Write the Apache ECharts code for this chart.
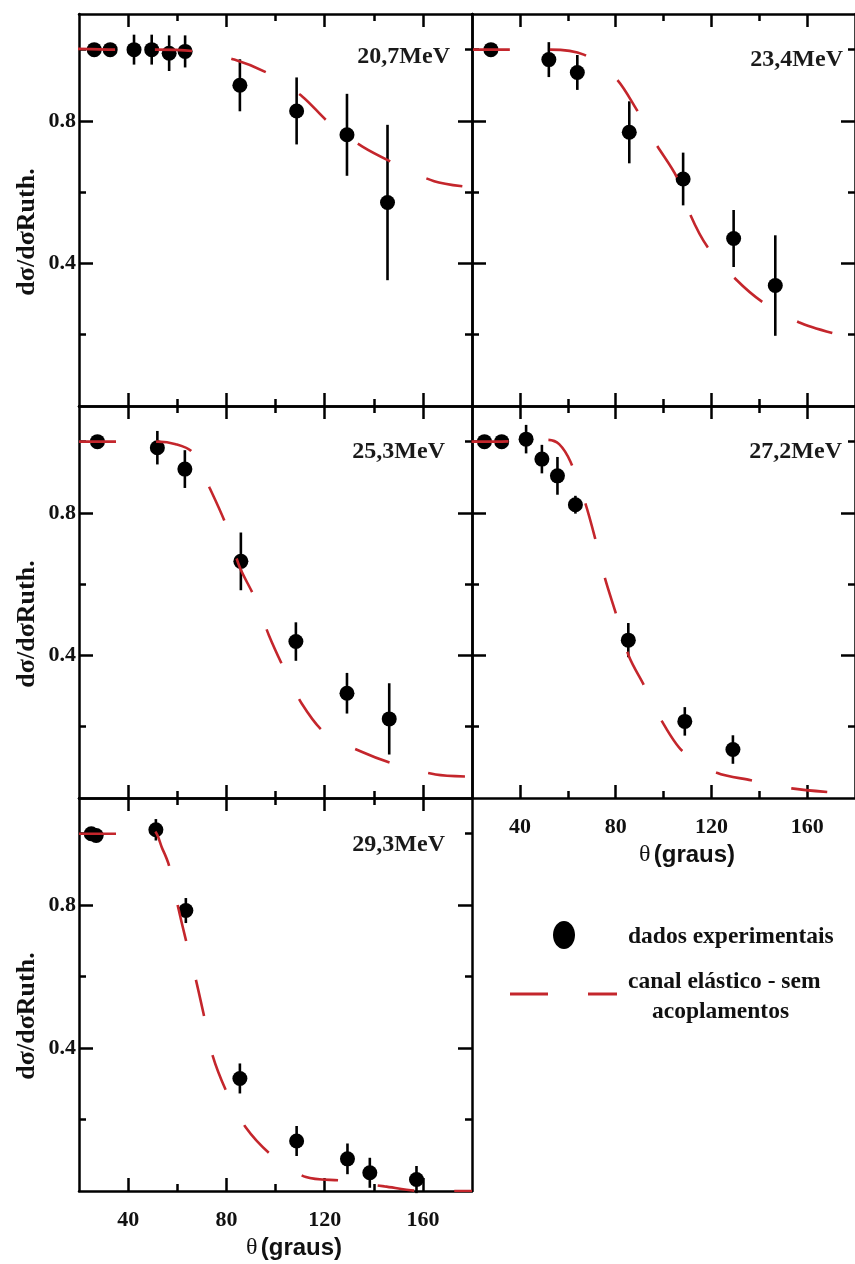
<!DOCTYPE html>
<html>
<head>
<meta charset="utf-8">
<script src="https://cdn.jsdelivr.net/npm/echarts@6/dist/echarts.min.js"></script>
<style>
  html, body { margin: 0; padding: 0; background: #ffffff; }
  #chart { width: 855px; height: 1264px; }
</style>
</head>
<body>
<div id="chart"></div>
<script>
// Elastic scattering angular distributions, ratio to Rutherford, five beam energies.
const energies = ['20,7MeV', '23,4MeV', '25,3MeV', '27,2MeV', '29,3MeV'];

// 20,7 MeV
const expTheta207 = [26.2, 32.7, 42.4, 49.6, 56.7, 63.2, 85.5, 108.6, 129.1, 145.6];
const expRatio207 = [1.0, 1.0, 1.0, 1.0, 0.99, 0.995, 0.90, 0.828, 0.761, 0.571];
const expError207 = [0, 0, 0.042, 0.042, 0.05, 0.045, 0.073, 0.094, 0.115, 0.218];
const calcTheta207 = [19.6, 35, 50, 67.6, 83.2, 97.4, 111.0, 121.8, 135.4, 149.0, 164.6, 180];
const calcRatio207 = [1.002, 1.0, 1.0, 0.995, 0.972, 0.932, 0.868, 0.795, 0.728, 0.679, 0.631, 0.613];

// 23,4 MeV
const expTheta234 = [27.9, 52.1, 64.0, 85.7, 108.2, 129.3, 146.7];
const expRatio234 = [1.0, 0.972, 0.936, 0.768, 0.637, 0.470, 0.338];
const expError234 = [0, 0.049, 0.049, 0.087, 0.074, 0.08, 0.141];
const calcTheta234 = [20.4, 34.7, 52.1, 66.7, 80.0, 88.4, 96.9, 105.5, 111.3, 118.4, 130.0, 141.5, 156.5, 170.8];
const calcRatio234 = [1.0, 1.0, 1.0, 0.986, 0.92, 0.836, 0.735, 0.643, 0.535, 0.446, 0.357, 0.291, 0.235, 0.204];

// 25,3 MeV
const expTheta253 = [27.5, 51.9, 63.1, 85.9, 108.3, 129.1, 146.3];
const expRatio253 = [1.0, 0.983, 0.923, 0.664, 0.439, 0.294, 0.222];
const expError253 = [0, 0.047, 0.053, 0.081, 0.054, 0.057, 0.10];
const calcTheta253 = [20, 35, 52, 59.4, 65.9, 73.2, 79.7, 85.4, 91.2, 97.3, 103.4, 110.6, 120.1, 135.3, 148.9, 165.2, 179.5];
const calcRatio253 = [1.0, 1.0, 1.0, 0.993, 0.972, 0.87, 0.769, 0.648, 0.567, 0.457, 0.364, 0.266, 0.183, 0.129, 0.094, 0.066, 0.06];

// 27,2 MeV
const expTheta272 = [25.2, 32.4, 42.6, 49.2, 55.7, 63.2, 85.3, 108.9, 129.0];
const expRatio272 = [1.0, 1.0, 1.007, 0.951, 0.904, 0.823, 0.443, 0.215, 0.136];
const expError272 = [0, 0, 0.04, 0.04, 0.053, 0.025, 0.048, 0.04, 0.04];
const calcTheta272 = [19.8, 30, 51.7, 56.4, 61.1, 67.2, 71.3, 75.4, 80.1, 85.6, 91.7, 99.4, 108.0, 122.3, 136.5, 153.5, 168.4];
const calcRatio272 = [1.0, 1.0, 1.005, 0.993, 0.944, 0.83, 0.732, 0.62, 0.518, 0.397, 0.318, 0.215, 0.131, 0.071, 0.05, 0.027, 0.017];

// 29,3 MeV
const expTheta293 = [25.0, 27.0, 51.3, 63.5, 85.5, 108.6, 129.3, 138.4, 157.4];
const expRatio293 = [1.0, 0.995, 1.011, 0.785, 0.315, 0.14, 0.09, 0.051, 0.032];
const expError293 = [0, 0, 0.03, 0.035, 0.042, 0.042, 0.043, 0.042, 0.038];
const calcTheta293 = [20, 35, 49.9, 54.0, 56.7, 60.1, 63.5, 67.6, 71.0, 74.4, 80.2, 88.0, 98.8, 112.4, 127.4, 144.4, 159.3, 180];
const calcRatio293 = [1.0, 1.0, 1.01, 0.957, 0.91, 0.802, 0.703, 0.591, 0.487, 0.379, 0.276, 0.177, 0.098, 0.039, 0.029, 0.013, 0.0, 0.0];

// Axis ticks
const xMajorTicks = [40, 80, 120, 160];
const xMinorTicks = [60, 100, 140];
const yMajorTicks = [0.4, 0.8];
const yMinorTicks = [0.2, 0.6, 1.0];

const seriesNames = ['dados experimentais', 'canal elástico - sem acoplamentos'];

const panels = [
  { label: energies[0], expT: expTheta207, expR: expRatio207, expE: expError207, calcT: calcTheta207, calcR: calcRatio207 },
  { label: energies[1], expT: expTheta234, expR: expRatio234, expE: expError234, calcT: calcTheta234, calcR: calcRatio234 },
  { label: energies[2], expT: expTheta253, expR: expRatio253, expE: expError253, calcT: calcTheta253, calcR: calcRatio253 },
  { label: energies[3], expT: expTheta272, expR: expRatio272, expE: expError272, calcT: calcTheta272, calcR: calcRatio272 },
  { label: energies[4], expT: expTheta293, expR: expRatio293, expE: expError293, calcT: calcTheta293, calcR: calcRatio293 }
];

// Panel frames: 3 rows x 2 columns, lower right cell holds the key
const frames = [
  { left: 79,  top: 14,  width: 393, height: 392, xLabels: false, yLabels: true,  tag: { x: 450, y: 57 } },
  { left: 472, top: 14,  width: 392, height: 392, xLabels: false, yLabels: false, tag: { x: 843, y: 60 } },
  { left: 79,  top: 406, width: 393, height: 392, xLabels: false, yLabels: true,  tag: { x: 445, y: 452 } },
  { left: 472, top: 406, width: 392, height: 392, xLabels: true,  yLabels: false, tag: { x: 842, y: 452 } },
  { left: 79,  top: 798, width: 393, height: 393, xLabels: true,  yLabels: true,  tag: { x: 445, y: 845 } }
];

const INK = '#000000';
const RED = '#c4262c';
const SERIF = '"Liberation Serif", "Times New Roman", serif';
const SANS = '"Liberation Sans", Arial, sans-serif';

const tickLabelStyle = { fontFamily: SERIF, fontWeight: 'bold', fontSize: 22, color: '#111111' };

const grid = [];
const xAxis = [];
const yAxis = [];
const series = [];
const graphic = [];

frames.forEach((f, gi) => {
  grid.push({ left: f.left, top: f.top, width: f.width, height: f.height, containLabel: false });

  ['bottom', 'top'].forEach(pos => {
    // long ticks + frame line
    xAxis.push({
      gridIndex: gi, type: 'value', min: 20, max: 180, position: pos,
      axisLine: { show: true, onZero: false, lineStyle: { color: INK, width: 2.5 } },
      axisTick: { show: true, inside: true, length: 13, customValues: xMajorTicks, lineStyle: { color: INK, width: 2.5 } },
      axisLabel: Object.assign({ show: f.xLabels && pos === 'bottom', customValues: xMajorTicks, margin: 18 }, tickLabelStyle),
      splitLine: { show: false }
    });
    // short ticks
    xAxis.push({
      gridIndex: gi, type: 'value', min: 20, max: 180, position: pos,
      axisLine: { show: false, onZero: false },
      axisTick: { show: true, inside: true, length: 7, customValues: xMinorTicks, lineStyle: { color: INK, width: 2.5 } },
      axisLabel: { show: false },
      splitLine: { show: false }
    });
  });

  ['left', 'right'].forEach(pos => {
    yAxis.push({
      gridIndex: gi, type: 'value', min: 0, max: 1.1, position: pos,
      axisLine: { show: true, onZero: false, lineStyle: { color: INK, width: 2.5 } },
      axisTick: { show: true, inside: true, length: 14, customValues: yMajorTicks, lineStyle: { color: INK, width: 2.5 } },
      axisLabel: Object.assign({
        show: f.yLabels && pos === 'left', customValues: yMajorTicks, margin: 3,
        formatter: v => v.toFixed(1)
      }, tickLabelStyle),
      splitLine: { show: false }
    });
    yAxis.push({
      gridIndex: gi, type: 'value', min: 0, max: 1.1, position: pos,
      axisLine: { show: false, onZero: false },
      axisTick: { show: true, inside: true, length: 7, customValues: yMinorTicks, lineStyle: { color: INK, width: 2.5 } },
      axisLabel: { show: false },
      splitLine: { show: false }
    });
  });

  const p = panels[gi];
  const xi = gi * 4;
  const yi = gi * 4;

  // error bars
  series.push({
    type: 'custom', name: seriesNames[0], xAxisIndex: xi, yAxisIndex: yi, z: 2,
    data: p.expT.map((t, i) => [t, p.expR[i], p.expE[i]]),
    renderItem: (params, api) => {
      const e = api.value(2);
      if (!e) return null;
      const x = api.value(0), y = api.value(1);
      const a = api.coord([x, y - e]);
      const b = api.coord([x, y + e]);
      return {
        type: 'line',
        shape: { x1: a[0], y1: a[1], x2: b[0], y2: b[1] },
        style: { stroke: INK, lineWidth: 2.6 }
      };
    }
  });

  // measured points
  series.push({
    type: 'scatter', name: seriesNames[0], xAxisIndex: xi, yAxisIndex: yi, z: 3,
    symbol: 'circle', symbolSize: 15,
    itemStyle: { color: INK, opacity: 1 },
    data: p.expT.map((t, i) => [t, p.expR[i]])
  });

  // optical-model calculation
  series.push({
    type: 'line', name: seriesNames[1], xAxisIndex: xi, yAxisIndex: yi, z: 4,
    showSymbol: false, smooth: 0.3,
    lineStyle: { color: RED, width: 2.6, type: [37, 40] },
    data: p.calcT.map((t, i) => [t, p.calcR[i]])
  });

  // energy tag
  graphic.push({
    type: 'text', x: f.tag.x, y: f.tag.y, z: 10,
    style: { text: p.label, fill: '#1a1a1a', font: 'bold 24px ' + SERIF, align: 'right', verticalAlign: 'middle' }
  });
});

// vertical axis titles, one per row
[232, 624, 1016].forEach(cy => {
  graphic.push({
    type: 'text', x: 27, y: cy, rotation: Math.PI / 2, z: 10,
    style: { text: 'dσ/dσRuth.', fill: '#111111', font: 'bold 26px ' + SERIF, align: 'center', verticalAlign: 'middle' }
  });
});

// horizontal axis titles
[[294, 1248], [687, 855]].forEach(([cx, cy]) => {
  graphic.push({
    type: 'text', x: cx, y: cy, z: 10,
    style: {
      text: '{t|θ} {g|(graus)}',
      align: 'center', verticalAlign: 'middle',
      rich: {
        t: { fontFamily: SERIF, fontSize: 24, fill: '#111111' },
        g: { fontFamily: SANS, fontWeight: 'bold', fontSize: 24, fill: '#111111' }
      }
    }
  });
});

// key
graphic.push(
  { type: 'ellipse', shape: { cx: 564, cy: 935, rx: 11, ry: 14 }, style: { fill: INK }, z: 10 },
  { type: 'line', shape: { x1: 510, y1: 994, x2: 548, y2: 994 }, style: { stroke: RED, lineWidth: 3 }, z: 10 },
  { type: 'line', shape: { x1: 588, y1: 994, x2: 617, y2: 994 }, style: { stroke: RED, lineWidth: 3 }, z: 10 },
  { type: 'text', x: 628, y: 937, z: 10,
    style: { text: seriesNames[0], fill: '#111111', font: 'bold 23.5px ' + SERIF, align: 'left', verticalAlign: 'middle' } },
  { type: 'text', x: 628, y: 982, z: 10,
    style: { text: 'canal elástico - sem', fill: '#111111', font: 'bold 23.5px ' + SERIF, align: 'left', verticalAlign: 'middle' } },
  { type: 'text', x: 652, y: 1012, z: 10,
    style: { text: 'acoplamentos', fill: '#111111', font: 'bold 23.5px ' + SERIF, align: 'left', verticalAlign: 'middle' } }
);

const chart = echarts.init(document.getElementById('chart'), null, { renderer: 'canvas' });
chart.setOption({
  backgroundColor: '#ffffff',
  animation: false,
  grid, xAxis, yAxis, series, graphic
});
</script>
</body>
</html>
